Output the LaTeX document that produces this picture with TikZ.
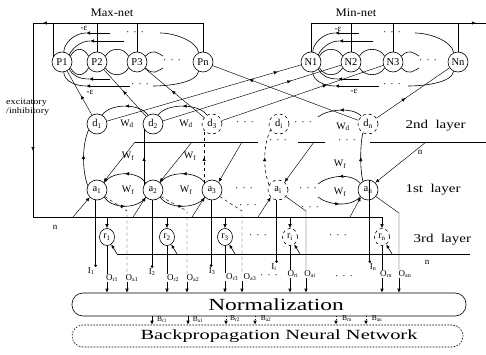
\documentclass[tikz,border=0pt]{standalone}
\usepackage{fontspec}
\usepackage{graphicx}
\setmainfont{Liberation Serif}
\usetikzlibrary{arrows.meta,decorations.markings,calc,shapes.geometric}
\tikzset{
 wire/.style={line width=0.6pt},
 thinw/.style={line width=0.45pt},
 nd/.style={circle,draw,line width=0.6pt,minimum size=20pt,inner sep=0pt,font=\fontsize{10.5}{10.5}\selectfont},
 rnd/.style={ellipse,draw,line width=0.6pt,minimum width=15pt,minimum height=17pt,inner sep=0pt,font=\fontsize{10}{10}\selectfont},
 lbl/.style={inner sep=0.5pt,font=\fontsize{9}{9}\selectfont},
 blbl/.style={inner sep=0.5pt,font=\fontsize{7.5}{8}\selectfont},
 wlbl/.style={inner sep=0.5pt,font=\fontsize{10}{10}\selectfont},
 dots/.style={inner sep=0pt,font=\fontsize{10}{10}\selectfont},
 tip/.style={-{Latex[length=4pt,width=3.5pt]}},
 mar/.style={postaction={decorate},decoration={markings,mark=at position #1 with {\arrow{Latex[length=4pt,width=3.5pt]}}}},
 mar/.default=0.5,
}
\newcommand{\dotsrow}{·\hspace{4pt}·\hspace{4pt}·}
\newcommand{\netarcs}[4]{%
 \draw[wire] (#1.35) .. controls +(5,-9) and +(-5,-9) .. (#2.145);
 \draw[wire] (#1.-35) .. controls +(5,9) and +(-5,9) .. (#2.-145);
 \draw[wire] (#2.35) .. controls +(5,-9) and +(-5,-9) .. (#3.145);
 \draw[wire] (#2.-35) .. controls +(5,9) and +(-5,9) .. (#3.-145);
 \coordinate (#1ea) at ($(#3)+(26,-6)$);
 \coordinate (#1eb) at ($(#3)+(26,6)$);
 \draw[wire] (#3.35) .. controls +(8,-8) and +(-6,-3) .. (#1ea);
 \draw[wire] (#3.-35) .. controls +(8,8) and +(-6,3) .. (#1eb);
 \coordinate (#1s1) at ($(#1)+(48,-29)$);
 \coordinate (#1m1) at ($(#1)+(24,-29)$);
 \coordinate (#1s2) at ($(#1)+(62,-21)$);
 \coordinate (#1m2) at ($(#1)+(28,-21)$);
 \coordinate (#1s3) at ($(#1)+(48,17)$);
 \coordinate (#1m3) at ($(#1)+(27,17)$);
 \coordinate (#1s4) at ($(#1)+(68,24)$);
 \coordinate (#1m4) at ($(#1)+(24,24)$);
 \draw[wire,tip] (#1s1) -- (#1m1);
 \draw[wire] (#1m1) .. controls +(-12,0) and +(0,-8) .. (#1.80);
 \draw[wire,tip] (#1s2) -- (#1m2);
 \draw[wire] (#1m2) .. controls +(-10,0) and +(3,-6) .. (#1.45);
 \draw[wire,tip] (#1s3) -- (#1m3);
 \draw[wire] (#1m3) .. controls +(-10,0) and +(3,6) .. (#1.-45);
 \draw[wire,tip] (#1s4) -- (#1m4);
 \draw[wire] (#1m4) .. controls +(-12,0) and +(0,8) .. (#1.-80);
 \coordinate (#4t) at ($(#4)+(-43,-29)$);
 \coordinate (#4b) at ($(#4)+(-50,24)$);
 \draw[wire] (#4.115) .. controls +(-2,-12) and +(14,0) .. (#4t);
 \draw[wire] (#4.-115) .. controls +(-2,12) and +(14,0) .. (#4b);
}
\begin{document}
\begin{tikzpicture}[x=1pt,y=-1pt]
\useasboundingbox (0,0) rectangle (486,355);
% titles
\node[font=\fontsize{11.5}{12}\selectfont] (maxl) at (112,13) {\scalebox{1.1}[1]{Max-net}};
\node[font=\fontsize{11.5}{12}\selectfont] (minl) at (356,13) {\scalebox{1.1}[1]{Min-net}};
% Max-net / Min-net nodes
\node[nd] (P1) at (62,62) {P1};
\node[nd] (P2) at (97,62) {P2};
\node[nd] (P3) at (137,62) {P3};
\node[nd] (Pn) at (203,62) {Pn};
\node[nd] (N1) at (311,62) {N1};
\node[nd] (N2) at (351,62) {N2};
\node[nd] (N3) at (393,62) {N3};
\node[nd] (Nn) at (458,62) {Nn};
% 2nd layer
\node[nd] (d1) at (97,124) {d\textsubscript{1}};
\node[nd] (d2) at (153,124) {d\textsubscript{2}};
\node[nd,dashed] (d3) at (212,124) {d\textsubscript{3}};
\node[nd,dashed] (di) at (279,124) {d\textsubscript{i}};
\node[nd,dashed] (dn) at (368,124) {d\textsubscript{n}};
% 1st layer
\node[nd] (a1) at (97,190) {a\textsubscript{1}};
\node[nd] (a2) at (153,190) {a\textsubscript{2}};
\node[nd] (a3) at (212,190) {a\textsubscript{3}};
\node[nd,dashed] (ai) at (278,190) {a\textsubscript{i}};
\node[nd] (an) at (368,190) {a\textsubscript{n}};
% 3rd layer
\node[rnd] (r1) at (107,237) {r\textsubscript{1}};
\node[rnd] (r2) at (167,237) {r\textsubscript{2}};
\node[rnd] (r3) at (225,237) {r\textsubscript{3}};
\node[rnd,dashed] (ri) at (290,237) {r\textsubscript{i}};
\node[rnd,dashed] (rn) at (382,237) {r\textsubscript{n}};
% layer names
\node[anchor=west,font=\fontsize{12}{12}\selectfont] (l2) at (402,126) {\scalebox{1.25}[1]{2nd\ \ layer}};
\node[anchor=west,font=\fontsize{12}{12}\selectfont] (l1) at (402,190) {\scalebox{1.25}[1]{1st\ \ layer}};
\node[anchor=west,font=\fontsize{12}{12}\selectfont] (l3) at (410,240) {\scalebox{1.25}[1]{3rd\ \ layer}};
\node[anchor=west,align=left,font=\fontsize{8.5}{9}\selectfont,inner sep=0pt] (exc) at (6,107) {\scalebox{1.2}[1]{excitatory}\\\scalebox{1.2}[1]{/inhibitory}};
% top feedback lines
\coordinate (tl) at (33,23);
\coordinate (tr) at (486,23);
\coordinate (bl) at (33,217);
\coordinate (br) at (382,217);
\draw[wire,mar=0.95] (Pn.north) |- (tl);
\draw[wire] (P1.150) -- (P1.150 |- tl);
\draw[wire] (P2.north) -- (P2.north |- tl);
\draw[wire] (P3.north) -- (P3.north |- tl);
\draw[wire,mar=0.66] (tl) -- (bl);
\draw[wire] (bl) -- (br);
\draw[wire,tip] (br) -- (rn.north);
\draw[wire,mar=0.95] (N1.north) |- (tr);
\draw[wire] (N2.north) -- (N2.north |- tr);
\draw[wire] (N3.north) -- (N3.north |- tr);
\draw[wire] (Nn.north) -- (Nn.north |- tr);
% competitive arcs
\netarcs{P1}{P2}{P3}{Pn}
\netarcs{N1}{N2}{N3}{Nn}
\node[lbl] (eps1) at (84,28) {-ε};
\node[lbl] (eps2) at (90,92) {-ε};
\node[lbl] (eps3) at (338,29) {-ε};
\node[lbl] (eps4) at (354,91) {-ε};
\node[dots] (dt1) at (135,34) {\dotsrow};
\node[dots] (dt2) at (140,86) {\dotsrow};
\node[dots] (dt3) at (172,62) {\dotsrow};
\node[dots] (dt4) at (392,34) {\dotsrow};
\node[dots] (dt5) at (392,86) {\dotsrow};
\node[dots] (dt6) at (428,62) {\dotsrow};
% d -> P / N
\draw[thinw,mar=0.45] (d1) -- (P1);
\draw[thinw,mar=0.88] (d1) -- (N1);
\draw[thinw,mar=0.55] (d2) -- (P2);
\draw[thinw,mar=0.72] (d2) -- (N2);
\draw[thinw,mar=0.55] (d3) -- (P3);
\draw[thinw,mar=0.65] (d3) -- (N3);
\draw[thinw,mar=0.75] (dn) -- (Pn);
\draw[thinw,mar=0.4] (dn) -- (Nn);
% 2nd layer lateral
\draw[wire,mar=0.5] (d2.120) .. controls +(-8,-12) and +(8,-12) .. (d1.60);
\draw[wire,mar=0.5] (d3.120) .. controls +(-8,-12) and +(8,-12) .. (d2.60);
\coordinate (dl) at (318,117);
\draw[wire,mar=0.5] (dn.130) .. controls +(-10,-10) and +(8,-7) .. (dl);
\node[wlbl] (wd1) at (127,124) {W\textsubscript{d}};
\node[wlbl] (wd2) at (186,124) {W\textsubscript{d}};
\node[wlbl] (wd3) at (343,127) {W\textsubscript{d}};
\node[dots] (dt7) at (245,124) {\dotsrow};
\node[dots] (dt8) at (303,124) {\dotsrow};
% 1st layer lateral
\draw[wire,mar=0.5] (a2.135) .. controls +(-8,-12) and +(8,-12) .. (a1.45);
\draw[wire,mar=0.5] (a1.-45) .. controls +(8,12) and +(-8,12) .. (a2.-135);
\draw[wire,mar=0.5] (a3.135) .. controls +(-8,-12) and +(8,-12) .. (a2.45);
\draw[wire,mar=0.5] (a2.-45) .. controls +(8,12) and +(-8,12) .. (a3.-135);
\coordinate (al1) at (318,184);
\coordinate (al2) at (318,197);
\draw[wire,mar=0.5] (an.140) .. controls +(-10,-12) and +(8,-7) .. (al1);
\draw[wire,mar=0.5] (al2) .. controls +(8,7) and +(-10,12) .. (an.-140);
\node[wlbl] (wf1) at (128,156) {W\textsubscript{f}};
\node[wlbl] (wf2) at (190,156) {W\textsubscript{f}};
\node[wlbl] (wf3) at (340,164) {W\textsubscript{f}};
\node[wlbl] (wf4) at (128,190) {W\textsubscript{f}};
\node[wlbl] (wf5) at (186,190) {W\textsubscript{f}};
\node[wlbl] (wf6) at (340,192) {W\textsubscript{f}};
\node[dots] (dt9) at (244,190) {\dotsrow};
\node[dots] (dt10) at (308,190) {\dotsrow};
\node[dots] (dt11) at (248,207) {\dotsrow};
\node[dots] (dt12) at (310,209) {\dotsrow};
% a -> d
\draw[wire,mar=0.55] (a1.155) .. controls (82,170) and (82,145) .. (d1.215);
\draw[wire,mar=0.5] (a2.150) -- (d2.210);
\draw[wire,dashed,mar=0.5] (a3.140) -- (d3.220);
\draw[wire,dashed,mar=0.5] (ai.150) .. controls (263,170) and (263,145) .. (di.215);
\draw[wire,mar=0.5] (an.120) .. controls (360,170) and (360,145) .. (dn.240);
% line between layers (bus n)
\coordinate (m1) at (135,142);
\coordinate (m2) at (258,142);
\coordinate (m3) at (298,142);
\coordinate (m4) at (325,142);
\coordinate (m5) at (370,142);
\coordinate (m6) at (486,142);
\draw[wire] (m1) -- (m2);
\draw[wire] (m3) -- (m4);
\draw[wire] (m5) -- (m6);
\node[dots] (dt13) at (278,142) {\dotsrow};
\node[dots] (dt14) at (347,142) {\dotsrow};
\node[lbl] (n1) at (420,152) {n};
\coordinate (g2) at (192,142);
\coordinate (g3) at (242,142);
\coordinate (g4) at (314,142);
\coordinate (g5) at (426,142);
\draw[thinw,tip] (m1) -- (a1.50);
\draw[thinw,tip] (g2) -- (a2.50);
\draw[thinw,tip] (g3) -- (a3.50);
\draw[thinw,tip] (g4) -- (ai.50);
\draw[thinw,tip] (g5) -- (an.45);
% lower bus diagonals
\node[lbl] (n2) at (55,227) {n};
\coordinate (q1) at (73,217);
\coordinate (q2) at (133,217);
\coordinate (q3) at (192,217);
\coordinate (q4) at (258,217);
\coordinate (q5) at (350,217);
\draw[thinw,tip] (q1) -- (a1.225);
\draw[thinw,tip] (q2) -- (a2.225);
\draw[thinw,tip] (q3) -- (a3.225);
\draw[thinw,tip] (q4) -- (ai.225);
\draw[thinw,tip] (q5) -- (an.225);
% bus into r nodes
\draw[wire,tip] (r1.north |- bl) -- (r1.north);
\draw[wire,tip] (r2.north |- bl) -- (r2.north);
\draw[wire,tip] (r3.north |- bl) -- (r3.north);
\draw[wire,tip] (ri.north |- bl) -- (ri.north);
% r loop line
\coordinate (rl1) at (117,254);
\coordinate (rl2) at (177,254);
\coordinate (rl3) at (235,254);
\coordinate (rl4) at (300,254);
\coordinate (rl5) at (392,254);
\coordinate (rlE) at (470,254);
\draw[wire] (rl1) -- (rlE);
\draw[wire,tip] (rl1) -- (r1.-60);
\draw[wire,tip] (rl2) -- (r2.-60);
\draw[wire,tip] (rl3) -- (r3.-60);
\draw[wire,tip] (rl4) -- (ri.-60);
\draw[wire,tip] (rl5) -- (rn.-60);
\node[lbl] (n3) at (427,262) {n};
% input labels
\node[lbl] (I1) at (91,271) {I\textsubscript{1}};
\node[lbl] (I2) at (152,272) {I\textsubscript{2}};
\node[lbl] (I3) at (212,271) {I\textsubscript{3}};
\node[lbl] (Ii) at (274,267) {I\textsubscript{i}};
\node[lbl] (In) at (373,267) {I\textsubscript{n}};
\draw[wire,{Circle[length=2.6pt]}-] (a1.262 |- I1.north) -- (a1.262);
\draw[wire,{Circle[length=2.6pt]}-] (a2.265 |- I2.north) -- (a2.265);
\draw[wire,{Circle[length=2.6pt]}-] (a3.265 |- I3.north) -- (a3.265);
\draw[wire,{Circle[length=2.6pt]}-] (ai.262 |- Ii.north) -- (ai.262);
\draw[wire,{Circle[length=2.6pt]}-] (an.80 |- In.north) -- (an.80);
% output labels
\node[lbl] (Or1) at (112,278) {O\textsubscript{r1}};
\node[lbl] (Oa1) at (132,278) {O\textsubscript{a1}};
\node[lbl] (Or2) at (173,278) {O\textsubscript{r2}};
\node[lbl] (Oa2) at (193,278) {O\textsubscript{a2}};
\node[lbl] (Or3) at (232,277) {O\textsubscript{r3}};
\node[lbl] (Oa3) at (250,277) {O\textsubscript{a3}};
\node[lbl] (Ori) at (293,274) {O\textsubscript{ri}};
\node[lbl] (Oai) at (310,274) {O\textsubscript{ai}};
\node[lbl] (Orn) at (386,274) {O\textsubscript{rn}};
\node[lbl] (Oan) at (405,274) {O\textsubscript{an}};
\node[dots] (dt15) at (269,277) {\dotsrow};
\node[dots] (dt16) at (344,278) {\dotsrow};
\node[dots] (dt17) at (258,237) {\dotsrow};
\node[dots] (dt18) at (338,237) {\dotsrow};
% r outputs
\draw[wire] (r1.south) -- (r1.south |- Or1.north);
\draw[wire] (r2.south) -- (r2.south |- Or2.north);
\draw[wire] (r3.south) -- (r3.south |- Or3.north);
\draw[wire] (ri.south) -- (ri.south |- Ori.north);
\draw[wire] (rn.south) -- (rn.south |- Orn.north);
% a outputs
\coordinate (k1) at (127,211);
\coordinate (k2) at (187,211);
\coordinate (k3) at (242,211);
\coordinate (k4) at (306,211);
\coordinate (k5) at (399,213);
\draw[thinw,dashed] (a1.-40) -- (k1) -- (k1 |- Oa1.north);
\draw[thinw,dashed] (a2.-40) -- (k2) -- (k2 |- Oa2.north);
\draw[thinw,dashed] (a3.-40) -- (k3) -- (k3 |- Oa3.north);
\draw[thinw] (ai.-40) -- (k4) -- (k4 |- Oai.north);
\draw[thinw] (an.-40) -- (k5) -- (k5 |- Oan.north);
% Normalization and BPNN
\node[draw,wire,rounded corners=11pt,minimum width=394pt,minimum height=23pt,inner sep=0pt] (norm) at (269,304.5) {\hspace{14pt}{\fontsize{17}{17}\selectfont\scalebox{1.38}[1]{Normalization}}};
\node[draw,wire,dash pattern=on 1.6pt off 1.4pt,rounded corners=11pt,minimum width=391pt,minimum height=22pt,inner sep=0pt] (bp) at (267.5,336) {\hspace{23pt}{\fontsize{14}{14}\selectfont\scalebox{1.46}[1]{Backpropagation Neural Network}}};
\draw[wire,tip] (r1.south |- Or1.south) -- (r1.south |- norm.north);
\draw[wire,tip] (k1 |- Oa1.south) -- (k1 |- norm.north);
\draw[wire,tip] (r2.south |- Or2.south) -- (r2.south |- norm.north);
\draw[wire,tip] (k2 |- Oa2.south) -- (k2 |- norm.north);
\draw[wire,tip] (r3.south |- Or3.south) -- (r3.south |- norm.north);
\draw[wire,tip] (k3 |- Oa3.south) -- (k3 |- norm.north);
\draw[wire,tip] (ri.south |- Ori.south) -- (ri.south |- norm.north);
\draw[wire,tip] (k4 |- Oai.south) -- (k4 |- norm.north);
\draw[wire,tip] (rn.south |- Orn.south) -- (rn.south |- norm.north);
\draw[wire,tip] (k5 |- Oan.south) -- (k5 |- norm.north);
% normalized values into BPNN
\coordinate (b1) at (152,0);
\coordinate (b2) at (188,0);
\coordinate (b3) at (226,0);
\coordinate (b4) at (255,0);
\coordinate (b5) at (336,0);
\coordinate (b6) at (366,0);
\draw[wire,tip] (norm.south -| b1) -- (bp.north -| b1);
\draw[wire,tip] (norm.south -| b2) -- (bp.north -| b2);
\draw[wire,dotted,tip] (norm.south -| b3) -- (bp.north -| b3);
\draw[wire,dotted,tip] (norm.south -| b4) -- (bp.north -| b4);
\draw[wire,dotted,tip] (norm.south -| b5) -- (bp.north -| b5);
\draw[wire,dotted,tip] (norm.south -| b6) -- (bp.north -| b6);
\node[blbl] (B1) at (162,320) {B\textsubscript{r1}};
\node[blbl] (B2) at (198,320) {B\textsubscript{a1}};
\node[blbl] (B3) at (235,319) {B\textsubscript{r2}};
\node[blbl] (B4) at (266,319) {B\textsubscript{a2}};
\node[blbl] (B5) at (347,319) {B\textsubscript{rn}};
\node[blbl] (B6) at (377,319) {B\textsubscript{an}};
\end{tikzpicture}
\end{document}
